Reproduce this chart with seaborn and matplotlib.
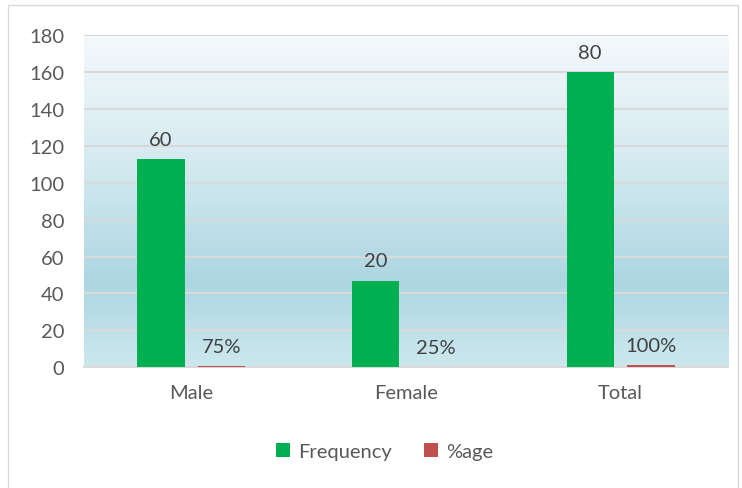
import numpy as np
import pandas as pd
import matplotlib
matplotlib.use('Agg')
import matplotlib.pyplot as plt
from matplotlib.colors import LinearSegmentedColormap
from matplotlib.patches import Rectangle
import seaborn as sns

# Data
categories = ['Male', 'Female', 'Total']
freq_heights = [113, 47, 160]
freq_labels = ['60', '20', '80']
pct_heights = [0.75, 0.25, 1.0]
pct_labels = ['75%', '25%', '100%']
series_names = ['Frequency', '%age']
colors = ['#00b050', '#c0504d']

df = pd.DataFrame({
    'Category': categories * 2,
    'Value': freq_heights + pct_heights,
    'Series': [series_names[0]] * 3 + [series_names[1]] * 3,
})

sns.set_style('white')
plt.rcParams['font.family'] = ['Lato', 'DejaVu Sans']

fig = plt.figure(figsize=(7.42, 4.89), dpi=100)
ax = fig.add_axes([0.113, 0.247, 0.868, 0.679])

# gradient background of plot area
cmap = LinearSegmentedColormap.from_list(
    'bg', [(0.0, '#cde8ee'), (0.25, '#acd6e2'), (0.6, '#d3e9f0'), (1.0, '#f4f9fb')])
grad = np.linspace(0, 1, 256).reshape(-1, 1)
ax.imshow(grad, extent=[-0.5, 2.5, 0, 180], aspect='auto', cmap=cmap,
          origin='lower', zorder=0)

sns.barplot(data=df, x='Category', y='Value', hue='Series', palette=colors,
            saturation=1, width=0.565, gap=0.22, linewidth=0, ax=ax, zorder=3)

for cont, labs in zip(ax.containers, [freq_labels, pct_labels]):
    ax.bar_label(cont, labels=labs, padding=8, fontsize=14.5, color='#404040')

ax.set_xlim(-0.5, 2.5)
ax.set_ylim(0, 180)
ax.set_yticks(range(0, 181, 20))
ax.yaxis.grid(True, color='#d9d9d9', linewidth=1.5, zorder=1)
ax.set_axisbelow(True)
for s in ['top', 'right', 'left']:
    ax.spines[s].set_visible(False)
ax.spines['bottom'].set_color('#d9d9d9')
ax.spines['bottom'].set_linewidth(1.5)
ax.spines['bottom'].set_zorder(1.5)
ax.tick_params(axis='both', length=0, labelsize=14.5, labelcolor='#595959')
ax.tick_params(axis='x', pad=12)
ax.tick_params(axis='y', pad=14)
ax.set_xlabel('')
ax.set_ylabel('')

ax.legend(loc='center', bbox_to_anchor=(0.467, -0.253), ncol=2, frameon=False,
          handlelength=0.7, handleheight=0.7, handletextpad=0.4, columnspacing=1.6,
          fontsize=14.5, labelcolor='#595959')

fig.patches.append(Rectangle((0.011, -0.01), 0.984, 0.998, transform=fig.transFigure,
                             fill=False, edgecolor='#d9d9d9', linewidth=1))

fig.savefig('out.png', dpi=100)
